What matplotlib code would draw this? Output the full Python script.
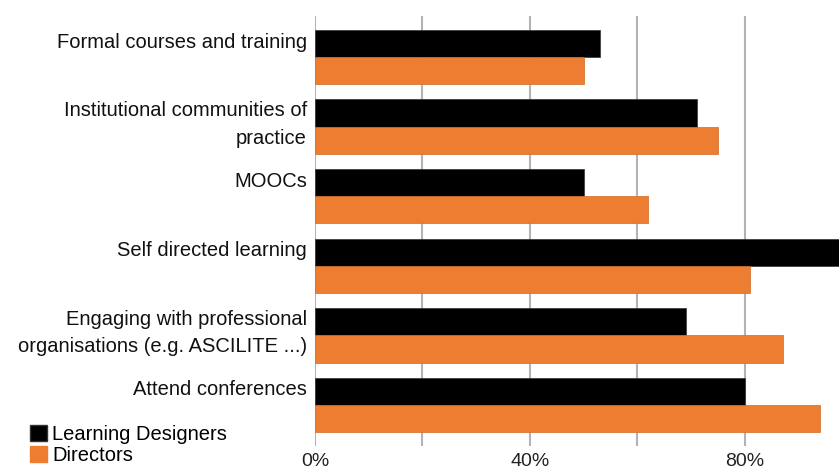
import matplotlib
matplotlib.use("Agg")
import matplotlib.pyplot as plt
from matplotlib.patches import Patch
import numpy as np

categories = [
    "Formal courses and training",
    "Institutional communities of\npractice",
    "MOOCs",
    "Self directed learning",
    "Engaging with professional\norganisations (e.g. ASCILITE ...)",
    "Attend conferences",
]
learning_designers = [53, 71, 50, 100, 69, 80]
directors = [50, 75, 62, 81, 87, 94]
series_names = ["Learning Designers", "Directors"]
x_ticks = [0, 20, 40, 60, 80]
x_tick_labels = ["0%", "", "40%", "", "80%"]

plt.rcParams['font.family'] = ['Liberation Sans', 'DejaVu Sans']

W, H = 839, 473
fig = plt.figure(figsize=(W / 100, H / 100), dpi=100)
ax = fig.add_axes([315 / W, 27 / H, 1 - 315 / W, (446 - 16) / H])

y = np.arange(len(categories))
bh = 0.39
black = "#000000"
orange = "#ED7D31"
ax.barh(y - bh / 2, learning_designers, height=bh, color=black, edgecolor="#333333", linewidth=0.5, zorder=3)
ax.barh(y + bh / 2, directors, height=bh, color=orange, edgecolor="#d06a25", linewidth=0.5, zorder=3)

ax.set_xlim(0, 97.5)
ax.set_ylim(len(categories) - 1 + 0.59, -0.59)
ax.set_xticks(x_ticks)
ax.set_xticklabels(x_tick_labels, fontsize=14, color="#222222")
ax.tick_params(axis='x', length=0, pad=5)
ax.set_yticks([])
ax.grid(axis='x', color="#b3b3b3", linewidth=1.5, zorder=0)
for s in ax.spines.values():
    s.set_visible(False)

for i, lab in enumerate(categories):
    if "\n" in lab:
        yc = i - 0.03
    else:
        yc = i - bh / 2 - 0.02
    ax.text(-8 / 5.375, yc, lab, ha='right', va='center', fontsize=14.5,
            color="#111111", linespacing=1.55, clip_on=False)

handles = [Patch(facecolor=black, edgecolor="#333333"), Patch(facecolor=orange, edgecolor=orange)]
fig.legend(handles, series_names, loc='upper left', bbox_to_anchor=(30 / W, 1 - 425 / H),
           frameon=False, fontsize=14.5, handlelength=0.85, handleheight=0.85,
           handletextpad=0.25, labelspacing=0.1, borderpad=0, borderaxespad=0)

fig.savefig("out.png", dpi=100)
